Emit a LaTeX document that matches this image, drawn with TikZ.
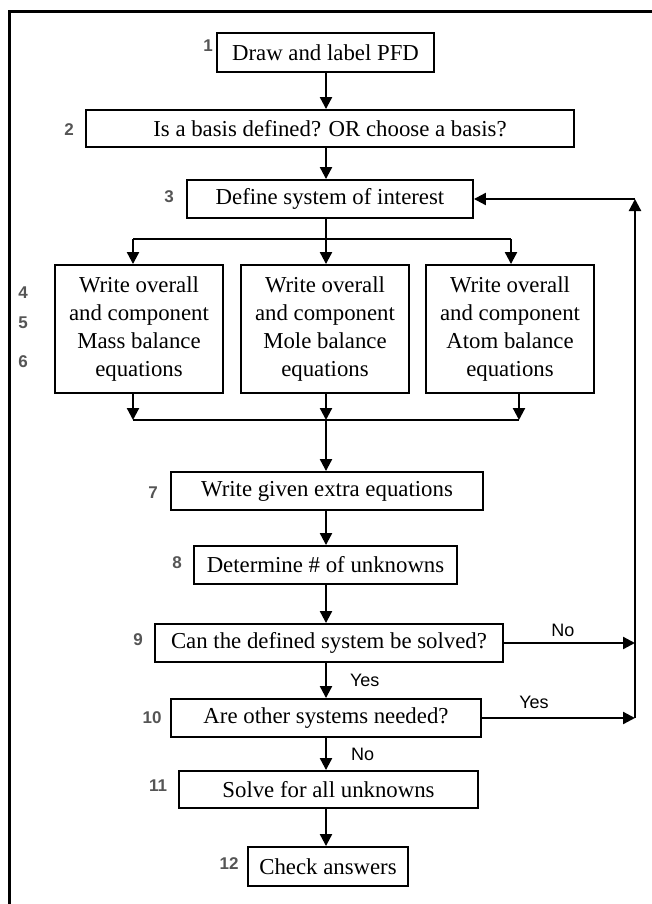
\documentclass[tikz,border=0pt]{standalone}
\usepackage{fontspec}
\setmainfont{Liberation Serif}
\newfontfamily\arialfont{Liberation Sans}
\usetikzlibrary{arrows.meta}
\definecolor{numgray}{HTML}{555555}

\begin{document}
\begin{tikzpicture}[x=1pt,y=-1pt,
  box/.style={draw,line width=1.9pt,inner sep=0pt,minimum height=38pt,align=center,font=\fontsize{22.8}{28}\selectfont},
  tall/.style={box,minimum width=168pt,minimum height=128pt},
  num/.style={inner sep=0pt,text=numgray,font=\arialfont\bfseries\fontsize{17}{17}\selectfont},
  yn/.style={inner sep=0pt,font=\arialfont\fontsize{18}{18}\selectfont},
  arr/.style={line width=2.2pt,-{Triangle[length=12pt,width=12pt]}},
  wire/.style={line width=2.2pt}]
\useasboundingbox (0,0) rectangle (652,904);
\draw[line width=3pt] (9,904) -- (9,12) -- (652,12);

\node[box,minimum width=217pt,minimum height=39pt] (pfd) at (325.5,52.5) {Draw and label PFD};
\node[box,minimum width=488pt,minimum height=37pt] (basis) at (330,128.5) {Is a basis defined? OR choose a basis?};
\node[box,minimum width=286pt] (sys) at (330,199) {Define system of interest};
\node[tall] (mass) at (139,329) {Write overall\\and component\\Mass balance\\equations};
\node[tall] (mole) at (325,329) {Write overall\\and component\\Mole balance\\equations};
\node[tall] (atom) at (510,329) {Write overall\\and component\\Atom balance\\equations};
\node[box,minimum width=312pt] (extra) at (327,491) {Write given extra equations};
\node[box,minimum width=263pt] (unk) at (325.5,565) {Determine \# of unknowns};
\node[box,minimum width=348pt] (solve) at (329,643) {Can the defined system be solved?};
\node[box,minimum width=310pt] (other) at (326,718) {Are other systems needed?};
\node[box,minimum width=299pt,minimum height=37pt] (all) at (328.5,789.5) {Solve for all unknowns};
\node[box,minimum width=160pt,minimum height=39pt] (check) at (328,866.5) {Check answers};

\node[num] (n1) at (208,46) {1};
\node[num] (n2) at (69,130) {2};
\node[num] (n3) at (169,197) {3};
\node[num] (n4) at (23,293) {4};
\node[num] (n5) at (23,323) {5};
\node[num] (n6) at (23,362) {6};
\node[num] (n7) at (153,493) {7};
\node[num] (n8) at (177,563) {8};
\node[num] (n9) at (138,640) {9};
\node[num] (n10) at (152,718) {10};
\node[num] (n11) at (158,786) {11};
\node[num] (n12) at (229,864) {12};

\coordinate (col) at (326,0);
\coordinate (split) at (326,239);
\coordinate (splitL) at (133,239);
\coordinate (splitR) at (511,239);
\coordinate (join) at (326,420);
\coordinate (joinL) at (133,420);
\coordinate (joinR) at (519,420);
\coordinate (back) at (635,0);

\draw[arr] (pfd.south -| col) -- (basis.north -| col);
\draw[arr] (basis.south -| col) -- (sys.north -| col);
\draw[wire] (sys.south -| col) -- (split);
\draw[wire] (splitL) -- (splitR);
\draw[arr] (splitL) -- (splitL |- mass.north);
\draw[arr] (split) -- (split |- mole.north);
\draw[arr] (splitR) -- (splitR |- atom.north);
\draw[arr] (mass.south -| joinL) -- (joinL);
\draw[arr] (mole.south -| join) -- (join);
\draw[arr] (atom.south -| joinR) -- (joinR);
\draw[wire] (joinL) -- (joinR);
\draw[arr] (join) -- (extra.north -| col);
\draw[arr] (extra.south -| col) -- (unk.north -| col);
\draw[arr] (unk.south -| col) -- (solve.north -| col);
\draw[arr] (solve.south -| col) -- node[yn,right=23pt] {Yes} (other.north -| col);
\draw[arr] (other.south -| col) -- node[yn,right=24pt] {No} (all.north -| col);
\draw[arr] (all.south -| col) -- (check.north -| col);

\draw[arr] (solve.east) -- node[yn,above=5pt,pos=0.45] {No} (solve.east -| back);
\draw[arr] (other.east) -- node[yn,above=8pt,pos=0.34] {Yes} (other.east -| back);
\draw[arr] (other.east -| back) -- (sys.east -| back);
\draw[arr] (sys.east -| back) -- (sys.east);
\end{tikzpicture}
\end{document}
